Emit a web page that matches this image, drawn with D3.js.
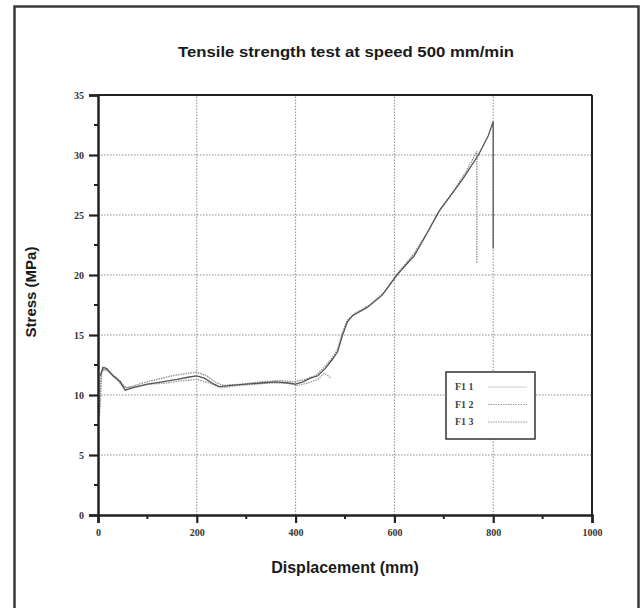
<!DOCTYPE html>
<html>
<head>
<meta charset="utf-8">
<script src="https://cdn.jsdelivr.net/npm/d3@7"></script>
<style>
  body { margin: 0; background: #fff; }
  svg { display: block; }
</style>
</head>
<body>
<svg width="643" height="608"></svg>
<script>
// Data (displacement mm, stress MPa)
const series1 = [
  [5, 11.6], [10, 12.3], [18, 12.2], [30, 11.6], [45, 11.1], [55, 10.4], [70, 10.6],
  [100, 10.9], [130, 11.1], [160, 11.3], [185, 11.5], [200, 11.6], [215, 11.4],
  [235, 10.9], [245, 10.7], [270, 10.8], [300, 10.9], [330, 11.0], [360, 11.1],
  [385, 11.0], [400, 10.9], [415, 11.1], [430, 11.4], [445, 11.6], [460, 12.2],
  [475, 13.0], [485, 13.6], [495, 15.0], [505, 16.1], [515, 16.6], [545, 17.3],
  [575, 18.3], [605, 20.0], [640, 21.6], [665, 23.4], [690, 25.3], [710, 26.4],
  [740, 28.1], [770, 30.0], [790, 31.6], [800, 32.8], [800, 22.2]
];
const series2 = [
  [3, 8.2], [6, 11.8], [12, 12.2], [22, 12.0], [35, 11.5], [50, 10.7], [60, 10.6],
  [90, 11.0], [120, 11.3], [150, 11.6], [180, 11.8], [200, 11.9], [220, 11.6],
  [240, 11.0], [255, 10.8], [290, 10.9], [330, 11.1], [370, 11.2], [395, 11.1],
  [420, 11.3], [440, 11.6], [458, 12.3], [472, 13.0], [484, 13.7], [494, 15.1],
  [504, 16.2], [520, 16.8], [550, 17.5], [580, 18.6], [610, 20.3], [640, 21.8],
  [670, 23.8], [695, 25.6], [720, 27.0], [745, 28.6], [767, 30.3], [767, 21.0]
];
const series3 = [
  [4, 9.0], [8, 12.0], [16, 12.1], [28, 11.7], [42, 11.3], [56, 10.6], [75, 10.7],
  [105, 10.9], [140, 11.0], [170, 11.2], [200, 11.3], [225, 11.0], [250, 10.6],
  [285, 10.8], [320, 10.9], [350, 11.0], [380, 11.0], [405, 10.8], [425, 11.0],
  [445, 11.3], [458, 11.8], [466, 11.6], [472, 11.4]
];
const legendLabels = ["F1 1", "F1 2", "F1 3"];
const xTicks = [0, 200, 400, 600, 800, 1000];
const yTicks = [0, 5, 10, 15, 20, 25, 30, 35];

const svg = d3.select("svg");
const serif = "'Liberation Serif', 'DejaVu Serif', serif";
const sans = "'Liberation Sans', Arial, sans-serif";

// outer frame
svg.append("rect")
  .attr("x", 14.5).attr("y", 6.5)
  .attr("width", 624).attr("height", 640)
  .attr("fill", "#fff")
  .attr("stroke", "#3a3a3a")
  .attr("stroke-width", 2.5);

// Scales
const x = d3.scaleLinear().domain([0, 1000]).range([98, 592]);
const y = d3.scaleLinear().domain([0, 35]).range([515, 95]);

// Grid
const grid = svg.append("g").attr("stroke", "#8a8a8a").attr("stroke-width", 1)
  .attr("stroke-dasharray", "1.5,1.5");
grid.selectAll(".gx").data(xTicks.slice(1, -1)).join("line")
  .attr("x1", d => x(d)).attr("x2", d => x(d))
  .attr("y1", y(0)).attr("y2", y(35));
grid.selectAll(".gy").data(yTicks.slice(1, -1)).join("line")
  .attr("x1", x(0)).attr("x2", x(1000))
  .attr("y1", d => y(d)).attr("y2", d => y(d));

// Curves
const line = d3.line().x(d => x(d[0])).y(d => y(d[1]));
svg.append("path").datum(series3).attr("d", line)
  .attr("fill", "none").attr("stroke", "#9a9a9a").attr("stroke-width", 1.3)
  .attr("stroke-dasharray", "1.5,1");
svg.append("path").datum(series2).attr("d", line)
  .attr("fill", "none").attr("stroke", "#8c8c8c").attr("stroke-width", 1.3)
  .attr("stroke-dasharray", "1.5,1");
svg.append("path").datum(series1).attr("d", line)
  .attr("fill", "none").attr("stroke", "#555").attr("stroke-width", 1.3);

// Frame top / right
svg.append("line").attr("x1", x(0)).attr("x2", x(1000)).attr("y1", y(35)).attr("y2", y(35))
  .attr("stroke", "#222").attr("stroke-width", 2);
svg.append("line").attr("x1", x(1000)).attr("x2", x(1000)).attr("y1", y(35)).attr("y2", y(0))
  .attr("stroke", "#222").attr("stroke-width", 2);

// Axes
const xAxis = d3.axisBottom(x).tickValues(xTicks).tickFormat(d3.format("d"))
  .tickSize(8).tickPadding(6);
const yAxis = d3.axisLeft(y).tickValues(yTicks).tickSize(9).tickPadding(5);
const gx = svg.append("g").attr("transform", `translate(0,${y(0)})`).call(xAxis);
const gy = svg.append("g").attr("transform", `translate(${x(0)},0)`).call(yAxis);
// minor ticks
gx.selectAll(".minor").data(d3.range(100, 1000, 200)).join("line")
  .attr("x1", d => x(d)).attr("x2", d => x(d)).attr("y1", 0).attr("y2", 4)
  .attr("stroke", "#222").attr("stroke-width", 2);
gy.selectAll(".minor").data(d3.range(2.5, 35, 5)).join("line")
  .attr("x1", 0).attr("x2", -4).attr("y1", d => y(d)).attr("y2", d => y(d))
  .attr("stroke", "#222").attr("stroke-width", 2);
[gx, gy].forEach(g => {
  g.select(".domain").attr("stroke", "#222").attr("stroke-width", 2.5);
  g.selectAll(".tick line").attr("stroke", "#222").attr("stroke-width", 2.2);
  g.selectAll("text").attr("font-family", serif).attr("font-weight", "bold")
    .attr("font-size", 10).attr("fill", "#333");
});

// Titles
svg.append("text").attr("x", 346).attr("y", 57).attr("text-anchor", "middle")
  .attr("font-family", sans).attr("font-weight", "bold").attr("font-size", 15)
  .attr("textLength", 336).attr("lengthAdjust", "spacingAndGlyphs")
  .attr("fill", "#1a1a1a")
  .text("Tensile strength test at speed 500 mm/min");
svg.append("text").attr("x", 345).attr("y", 573).attr("text-anchor", "middle")
  .attr("font-family", sans).attr("font-weight", "bold").attr("font-size", 16)
  .attr("fill", "#1a1a1a")
  .text("Displacement (mm)");
svg.append("text").attr("transform", "translate(36,292) rotate(-90)")
  .attr("text-anchor", "middle")
  .attr("font-family", sans).attr("font-weight", "bold").attr("font-size", 15)
  .attr("fill", "#1a1a1a")
  .text("Stress (MPa)");

// Legend
const legend = svg.append("g");
legend.append("rect").attr("x", 446).attr("y", 372).attr("width", 89).attr("height", 67)
  .attr("fill", "#fff").attr("stroke", "#333").attr("stroke-width", 1.5);
const styles = [
  { stroke: "#cfcfcf", dash: null },
  { stroke: "#9a9a9a", dash: "1.5,1" },
  { stroke: "#9a9a9a", dash: "1.5,1" }
];
legendLabels.forEach((lab, i) => {
  const ly = 390 + i * 17.5;
  legend.append("text").attr("x", 455).attr("y", ly)
    .attr("font-family", serif).attr("font-weight", "bold").attr("font-size", 10)
    .attr("fill", "#444").text(lab);
  legend.append("line").attr("x1", 488).attr("x2", 527).attr("y1", ly - 3).attr("y2", ly - 3)
    .attr("stroke", styles[i].stroke).attr("stroke-width", 1.2)
    .attr("stroke-dasharray", styles[i].dash);
});
</script>
</body>
</html>
